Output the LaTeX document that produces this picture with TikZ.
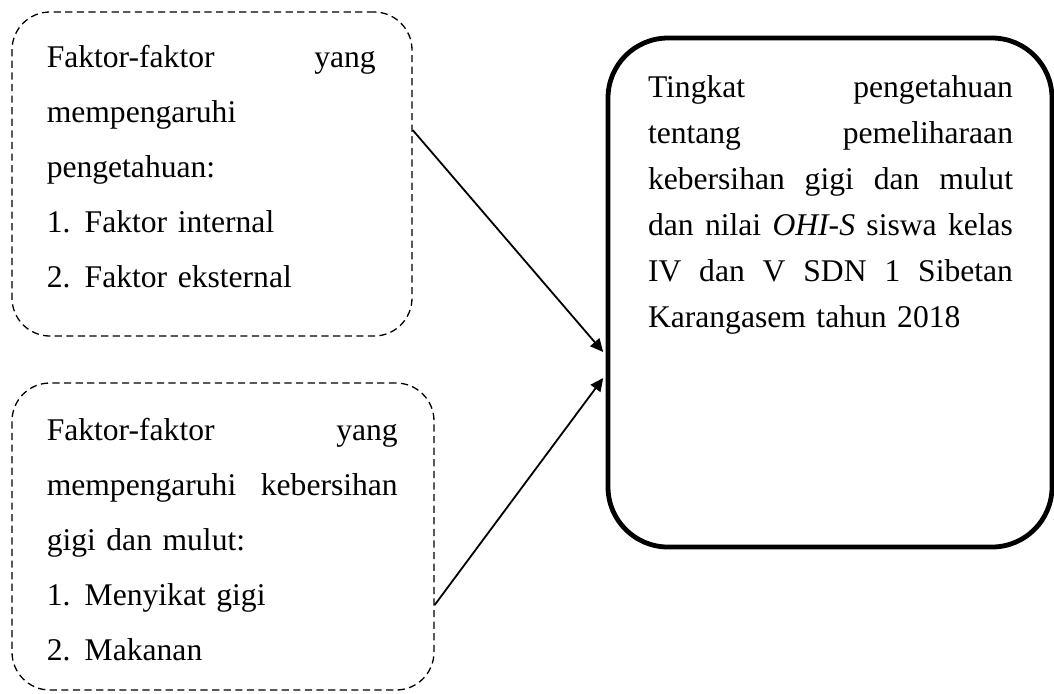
\documentclass[tikz,border=0pt]{standalone}
\usepackage{fontspec}
\setmainfont{Liberation Serif}
\usepackage{tikz}
\usetikzlibrary{positioning,arrows.meta,shapes}

\begin{document}
\begin{tikzpicture}[x=0.5pt, y=-0.5pt,
    dbox/.style={rectangle, draw, line width=0.65pt, dash pattern=on 3.6pt off 2.2pt, rounded corners=19pt},
    tbox/.style={rectangle, draw, line width=2.4pt, rounded corners=30pt},
    txt/.style={inner sep=0pt, align=left, anchor=north west, font=\fontsize{15.8}{27.5}\selectfont},
    arrow/.style={-{Triangle[length=6.5pt, width=6pt]}, line width=0.9pt}
]
    \useasboundingbox (0,0) rectangle (1054,693);

    \node[dbox, minimum width=200pt, minimum height=162pt] (faktor1) at (212,174) {};
    \node[dbox, minimum width=211pt, minimum height=153.5pt] (faktor2) at (223,536.5) {};
    \node[tbox, minimum width=222pt, minimum height=254.5pt] (tingkat) at (830,292.5) {};

    \node[txt, text width=164.5pt] (faktor1txt) at ([xshift=17.5pt, yshift=-16.7pt]faktor1.north west)
        {Faktor-faktor\hfill yang\\
         mempengaruhi\\
         pengetahuan:\\
         \makebox[19pt][l]{1.}Faktor internal\\
         \makebox[19pt][l]{2.}Faktor eksternal};
    \node[txt, text width=175.5pt] (faktor2txt) at ([xshift=17.5pt, yshift=-17.7pt]faktor2.north west)
        {Faktor-faktor\hfill yang\\
         mempengaruhi\hfill kebersihan\\
         gigi dan mulut:\\
         \makebox[19pt][l]{1.}Menyikat gigi\\
         \makebox[19pt][l]{2.}Makanan};
    \node[txt, text width=182.5pt, font=\fontsize{15.8}{23}\selectfont] (tingkattxt) at ([xshift=21pt, yshift=-19.7pt]tingkat.north west)
        {Tingkat\hfill pengetahuan\\
         tentang\hfill pemeliharaan\\
         kebersihan\hfill gigi\hfill dan\hfill mulut\\
         dan\hfill nilai\hfill \textit{OHI-S}\hfill siswa\hfill kelas\\
         IV\hfill dan\hfill V\hfill SDN\hfill 1\hfill Sibetan\\
         Karangasem tahun 2018};

    \draw[arrow] ([yshift=22pt]faktor1.east) -- ([xshift=-1.2pt, yshift=-29.75pt]tingkat.west);
    \draw[arrow] ([yshift=-34.25pt]faktor2.east) -- ([xshift=-1.2pt, yshift=-42.75pt]tingkat.west);
\end{tikzpicture}
\end{document}
